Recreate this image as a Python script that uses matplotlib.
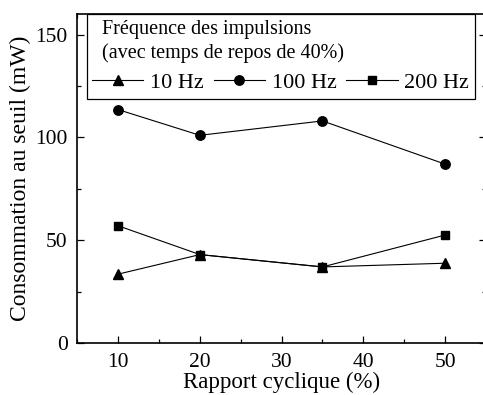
import matplotlib
matplotlib.use("Agg")
import matplotlib.pyplot as plt
from matplotlib.ticker import MultipleLocator

plt.rcParams['font.family'] = ['Liberation Serif', 'DejaVu Serif']

duty = [10, 20, 35, 50]
hz10 = [33.5, 43.0, 37.0, 38.8]
hz100 = [113.5, 101.0, 108.0, 87.0]
hz200 = [57.0, 43.0, 37.0, 52.5]
labels = ["10 Hz", "100 Hz", "200 Hz"]

fig = plt.figure(figsize=(4.83, 3.95), dpi=100)
ax = fig.add_axes([0.160, 0.1316, 1.006 - 0.160, 0.9646 - 0.1316])

l3, = ax.plot(duty, hz200, color='black', lw=0.8, marker='s', ms=5.5, label=labels[2])
l2, = ax.plot(duty, hz100, color='black', lw=0.8, marker='o', ms=6.8, label=labels[1])
l1, = ax.plot(duty, hz10, color='black', lw=0.8, marker='^', ms=7, label=labels[0])

ax.set_xlim(5, 55)
ax.set_ylim(0, 160)
ax.xaxis.set_major_locator(MultipleLocator(10))
ax.xaxis.set_minor_locator(MultipleLocator(5))
ax.yaxis.set_major_locator(MultipleLocator(50))
ax.yaxis.set_minor_locator(MultipleLocator(25))
ax.tick_params(which='both', direction='in', top=True, right=True, labelsize=15.5, width=0.9, pad=7)
ax.tick_params(which='major', length=5)
ax.tick_params(which='minor', length=3)
for s in ax.spines.values():
    s.set_linewidth(1.2)

ax.set_xlabel("Rapport cyclique (%)", fontsize=16.5, labelpad=0)
ax.set_ylabel("Consommation au seuil (mW)", fontsize=17, labelpad=3)

leg = ax.legend(handles=[l1, l2, l3], labels=labels, ncol=3, loc='upper left',
                bbox_to_anchor=(0.023, 1.0), borderaxespad=0, fontsize=16,
                title="  Fréquence des impulsions\n  (avec temps de repos de 40%)",
                title_fontsize=14.5, alignment='left', frameon=True, fancybox=False,
                edgecolor='black', framealpha=1, handlelength=2.3, handletextpad=0.3,
                columnspacing=0.45, borderpad=0.25, labelspacing=0.45)
leg.get_title().set_linespacing(1.3)
leg.get_frame().set_linewidth(0.9)

fig.savefig("out.png", dpi=100)
